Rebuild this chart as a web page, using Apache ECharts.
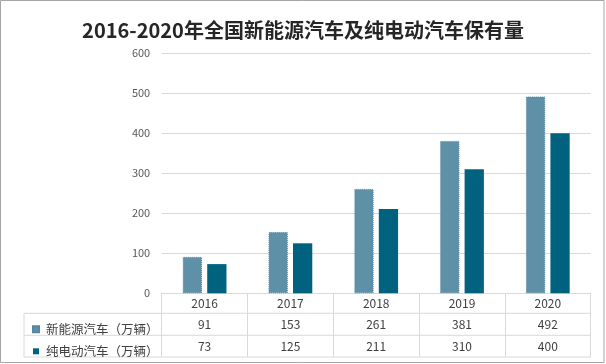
<!DOCTYPE html>
<html>
<head>
<meta charset="utf-8">
<script src="https://cdn.jsdelivr.net/npm/echarts@6/dist/echarts.min.js"></script>
<style>html,body{margin:0;padding:0;background:#fff;}#c{width:606px;height:364px;}</style>
</head>
<body>
<div id="c"></div>
<script>
var titleText = '2016-2020年全国新能源汽车及纯电动汽车保有量';
var categories = ['2016', '2017', '2018', '2019', '2020'];
var seriesNames = ['新能源汽车（万辆）', '纯电动汽车（万辆）'];
var nevValues = [91, 153, 261, 381, 492];
var bevValues = [73, 125, 211, 310, 400];
var yTicks = [0, 100, 200, 300, 400, 500, 600];

var FONT = '"Noto Sans CJK SC", "Noto Sans", sans-serif';
var colors = ['#5E91A8', '#00627F'];
var lineColor = '#d9d9d9';

var chart = echarts.init(document.getElementById('c'), null, {renderer: 'canvas'});

var gridTop = 53.3, gridBottomY = 293.3, gridLeft = 161.7, gridRight = 590.7;
var tableLeft = 24, row1 = 313.3, row2 = 335.3, row3 = 357;

function rowAxis(values, margin) {
  return {
    type: 'category', data: values.map(String), position: 'bottom', gridIndex: 0,
    axisLine: {show: false}, axisTick: {show: false}, splitLine: {show: false},
    axisLabel: {margin: margin, verticalAlign: 'middle', fontSize: 12, color: '#404040', fontFamily: FONT}
  };
}

chart.setOption({
  animation: false,
  backgroundColor: '#fff',
  title: {
    text: titleText, left: 'center', top: 15,
    textStyle: {fontSize: 20, fontWeight: 'bold', color: '#262626', fontFamily: FONT, lineHeight: 20}
  },
  legend: {
    orient: 'vertical', left: 27, top: 317.3, itemWidth: 6, itemHeight: 6, itemGap: 8,
    icon: 'rect', selectedMode: false,
    data: seriesNames,
    textStyle: {fontSize: 12.5, lineHeight: 14, color: '#404040', fontFamily: FONT, padding: [0, 0, 0, 2]}
  },
  grid: {left: gridLeft, right: 606 - gridRight, top: gridTop, bottom: 364 - gridBottomY, containLabel: false},
  xAxis: [
    {
      type: 'category', data: categories,
      axisLine: {show: true, lineStyle: {color: lineColor, width: 1}},
      axisTick: {show: true, length: row3 - gridBottomY, lineStyle: {color: lineColor}},
      axisLabel: {margin: 10, verticalAlign: 'middle', fontSize: 12, color: '#404040', fontFamily: FONT}
    },
    rowAxis(nevValues, 31),
    rowAxis(bevValues, 53)
  ],
  yAxis: {
    type: 'value', min: yTicks[0], max: yTicks[yTicks.length - 1], interval: 100,
    axisLine: {show: false}, axisTick: {show: false},
    splitLine: {lineStyle: {color: lineColor, width: 1}},
    axisLabel: {margin: 11.5, fontSize: 11, color: '#595959', fontFamily: FONT}
  },
  series: [
    {
      name: seriesNames[0], type: 'bar', data: nevValues, xAxisIndex: 0,
      barCategoryGap: '49%', barGap: '27%',
      itemStyle: {color: colors[0], borderColor: '#5687A0', borderWidth: 1, borderType: 'dotted'}
    },
    {
      name: seriesNames[1], type: 'bar', data: bevValues, xAxisIndex: 0,
      barCategoryGap: '49%', barGap: '27%',
      itemStyle: {color: colors[1]}
    }
  ],
  graphic: [
    {type: 'line', shape: {x1: tableLeft, y1: row1, x2: gridRight, y2: row1}, style: {stroke: lineColor, lineWidth: 1}, silent: true},
    {type: 'line', shape: {x1: tableLeft, y1: row2, x2: gridRight, y2: row2}, style: {stroke: lineColor, lineWidth: 1}, silent: true},
    {type: 'line', shape: {x1: tableLeft, y1: row3, x2: gridRight, y2: row3}, style: {stroke: lineColor, lineWidth: 1}, silent: true},
    {type: 'line', shape: {x1: tableLeft, y1: row1, x2: tableLeft, y2: row3}, style: {stroke: lineColor, lineWidth: 1}, silent: true},
    {type: 'rect', shape: {x: 0.5, y: 0.5, width: 603.5, height: 362}, style: {fill: null, stroke: '#a6a6a6', lineWidth: 1}, silent: true, z: 100}
  ]
});
</script>
</body>
</html>
